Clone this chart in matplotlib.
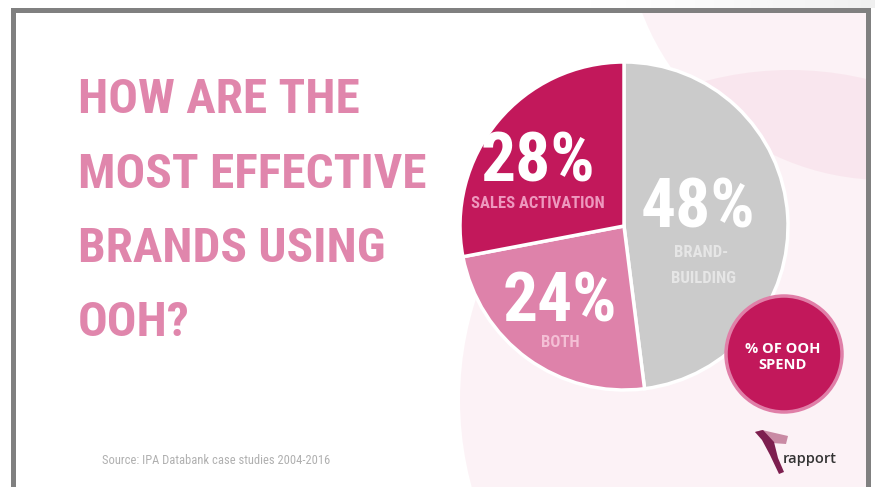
import matplotlib
matplotlib.use("Agg")
import matplotlib.pyplot as plt
from matplotlib import font_manager as fm
from matplotlib.patches import Circle, Rectangle, Polygon
import numpy as np

W, H = 875, 487

# data
segments = ["BRAND-\nBUILDING", "BOTH", "SALES ACTIVATION"]
shares = [48, 24, 28]
seg_colors = ["#cbcbcb", "#de82aa", "#c2185b"]
label_colors = ["#e6e6e6", "#f4bfd5", "#ee98be"]
title_lines = ["HOW ARE THE", "MOST EFFECTIVE", "BRANDS USING", "OOH?"]
badge_text = "% OF OOH\nSPEND"
source_text = "Source: IPA Databank case studies 2004-2016"
logo_text = "rapport"

# pick the narrowest family we have
names = {f.name for f in fm.fontManager.ttflist}
narrow = {"family": "Liberation Sans"}
for n in ["Liberation Sans Narrow", "DejaVu Sans Condensed", "Roboto Condensed"]:
    if n in names:
        narrow = {"family": n}
        break
else:
    if any(f.name == "DejaVu Sans" and "condensed" in str(f.stretch) for f in fm.fontManager.ttflist):
        narrow = {"family": "DejaVu Sans", "fontstretch": "condensed"}


def Y(y):
    # image rows -> data y
    return H - y


fig = plt.figure(figsize=(8.75, 4.87), dpi=100)
fig.patch.set_facecolor("white")
ax = fig.add_axes([0, 0, 1, 1])

# slide area + soft shadow above the frame
slide = Rectangle((13, -20), 855, Y(10) + 20, transform=ax.transData)
grad = np.linspace(0, 1, 200)[None, :] ** 1.5
ax.imshow(grad, extent=(560, 875, Y(8), H), cmap="Greys", vmin=0, vmax=8,
          aspect="auto", zorder=0)

# faint pink background circles
for (cx, cy), r in [((885, -80), 260), ((790, 400), 330)]:
    c = Circle((cx, Y(cy)), r, fc=(0.86, 0.35, 0.55), alpha=0.075, lw=0, zorder=0.5)
    ax.add_patch(c)
    c.set_clip_path(slide)

# the pie
wedges, _ = ax.pie(shares, colors=seg_colors, startangle=90, counterclock=False,
                   center=(624, Y(226)), radius=164,
                   wedgeprops=dict(edgecolor="white", linewidth=2.5))
for w in wedges:
    w.set_zorder(2)

# frame
ax.add_patch(Rectangle((13, -20), 855, Y(10) + 20, fill=False,
                       ec="#808080", lw=3.6, zorder=5))

# title
for i, line in enumerate(title_lines):
    ax.text(78, Y(113 + i * 74.5), line, fontsize=35.5, fontweight="bold",
            color="#e086ac", ha="left", va="baseline", **narrow)

# slice labels: (x centre, baseline of %, baseline of first caption line)
spots = [(698, 227, 257), (560, 321, 347), (538, 181, 208)]
for seg, val, col, (x, yb, yc) in zip(segments, shares, label_colors, spots):
    ax.text(x, Y(yb), f"{val}%", fontsize=50, fontweight="bold", color="white",
            ha="center", va="baseline", zorder=4, **narrow)
    for k, part in enumerate(seg.split("\n")):
        ax.text(x + 3 * k + (3 if seg.startswith("BRAND") else 0), Y(yc + 26 * k),
                part, fontsize=12, fontweight="bold", color=col,
                ha="center", va="baseline", zorder=4, **narrow)

# badge
ax.add_patch(Circle((784, Y(354)), 58, fc="#c2185b", ec="#e07fa8", lw=2.5, zorder=3))
ax.text(783, Y(357), badge_text, fontsize=10.5, fontweight="bold", color="white",
        family="Open Sans", ha="center", va="center", linespacing=1.2, zorder=4)

# source
ax.text(102, Y(460), source_text, fontsize=9, color="#b0b0b0",
        ha="left", va="center", **narrow)

# logo
ax.add_patch(Polygon([(755, Y(432)), (762, Y(430)), (788, Y(436)), (786, Y(444)),
                      (772, Y(443))], closed=True, fc="#c98aa4", lw=0, zorder=3))
ax.add_patch(Polygon([(755, Y(432)), (763, Y(430)), (774, Y(442)), (778, Y(458)),
                      (784, Y(472)), (779, Y(474)), (770, Y(455)), (762, Y(440))],
                     closed=True, fc="#7d1f4f", lw=0, zorder=3))
ax.text(783, Y(463), logo_text, fontsize=10.5, color="#333333", fontweight="semibold",
        family="Open Sans", ha="left", va="baseline", zorder=4)

ax.set_xlim(0, W)
ax.set_ylim(0, H)
ax.set_aspect("auto")
ax.axis("off")

fig.savefig("out.png", dpi=100, facecolor="white")
